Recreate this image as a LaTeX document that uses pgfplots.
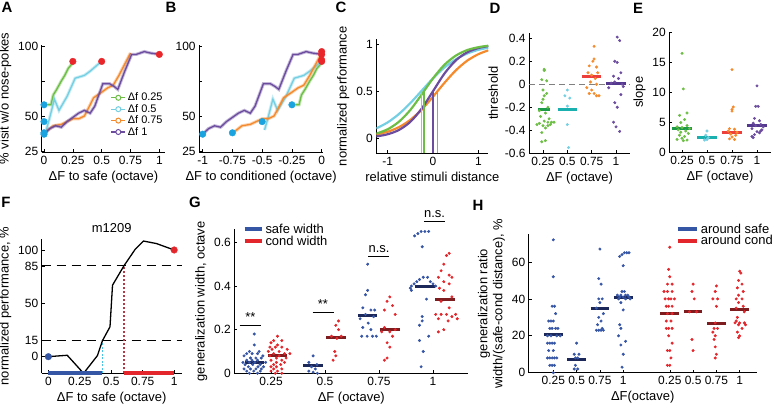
\documentclass[border=0pt]{standalone}
\usepackage{pgfplots}
\usepackage{pgfplotstable}
\pgfplotsset{compat=1.18}
\usepackage{fontspec}
\setmainfont{Liberation Sans}
\setsansfont{Liberation Sans}

\definecolor{cG}{HTML}{6DBE45}
\definecolor{cC}{HTML}{74CFE2}
\definecolor{cO}{HTML}{F58A2C}
\definecolor{cP}{HTML}{6B4C9E}
\definecolor{dotB}{HTML}{1BA3E0}
\definecolor{dotR}{HTML}{E9262A}
\definecolor{mG}{HTML}{1C9A4A}
\definecolor{mC}{HTML}{1AB0B0}
\definecolor{mO}{HTML}{EE3F3A}
\definecolor{mP}{HTML}{54378F}
\definecolor{gB}{HTML}{3555A5}
\definecolor{gR}{HTML}{E3262B}
\definecolor{mB}{HTML}{1C2859}
\definecolor{mR}{HTML}{7E1D1F}
\definecolor{fC}{HTML}{45C3E8}
\definecolor{fR}{HTML}{B03A48}

\pgfplotsset{
  common/.style={
    scale only axis, axis lines*=left,
    every tick label/.append style={font=\fontsize{12}{14}\selectfont},
    every axis label/.append style={font=\fontsize{13}{15}\selectfont},
    /pgf/number format/assume math mode=true,
    tick style={black, line width=0.6pt}, major tick length=3bp,
    axis line style={black, line width=0.8pt},
  },
  dot/.style={only marks, mark=*, mark size=1.3bp, forget plot},
  med/.style={line width=3bp, forget plot},
  bigdot/.style={only marks, mark=*, mark size=3.3bp, forget plot},
  band/.style={line width=3.2pt, opacity=0.4, forget plot},
  core/.style={line width=1.3pt},
}

\pgfplotstableread{
x y
0.03 58
0.06 58
0.08 65
0.11 69
0.15 75
0.18 79
0.21 84
0.25 88
}\dAg
\pgfplotstableread{
x y
0.02 40
0.05 49
0.09 62
0.13 54
0.20 64
0.27 77
0.35 79
0.40 82
0.47 87
0.50 89
}\dAc
\pgfplotstableread{
x y
0.02 39
0.08 43
0.15 44
0.20 46
0.25 48
0.30 48
0.35 50
0.40 58
0.43 63
0.50 67
0.55 70
0.60 72
0.65 79
0.70 87
0.75 95
}\dAo
\pgfplotstableread{
x y
0.00 37
0.05 41
0.10 43
0.15 42
0.20 46
0.25 49
0.30 52
0.35 54
0.40 52
0.44 57
0.51 73
0.57 73
0.61 71
0.64 69
0.70 82
0.76 94
0.80 94
0.87 96
0.92 95
1.00 94
}\dAp

\begin{document}
\begin{tikzpicture}
\useasboundingbox (0,0) rectangle (775bp,410bp);

% ---------- A ----------
\begin{axis}[common, at={(41.7bp,257.6bp)}, anchor=south west, width=123.4bp, height=107.8bp,
  xmin=-0.02, xmax=1.05, ymin=24, ymax=101,
  xtick={0,0.25,0.5,0.75,1}, xticklabels={0,0.25,0.5,0.75,1},
  ytick={25,50,75,100}, yticklabels={25,50,,100},
  xlabel={ΔF to safe (octave)}, ylabel={\% visit w/o nose-pokes},
  legend style={at={(0.55,0.58)}, anchor=north west, draw=none, fill=none,
    font=\fontsize{11}{13}\selectfont, row sep=-2bp, inner sep=1bp},
  legend cell align=left,
  legend image code/.code={\draw[#1,line width=1.1pt] (0bp,0bp) -- (14bp,0bp);
     \draw[#1,line width=1pt,fill=white] (7bp,0bp) circle (2.5bp);}]
\addplot[band, cG] table[x=x,y=y] {\dAg};
\addplot[core, cG] table[x=x,y=y] {\dAg}; \addlegendentry{Δf 0.25}
\addplot[band, cC] table[x=x,y=y] {\dAc};
\addplot[core, cC] table[x=x,y=y] {\dAc}; \addlegendentry{Δf 0.5}
\addplot[band, cO] table[x=x,y=y] {\dAo};
\addplot[core, cO] table[x=x,y=y] {\dAo}; \addlegendentry{Δf 0.75}
\addplot[band, cP] table[x=x,y=y] {\dAp};
\addplot[core, cP] table[x=x,y=y] {\dAp}; \addlegendentry{Δf 1}
\addplot[bigdot, dotB] coordinates {(0,58) (0,46) (0,38) (0,37)};
\addplot[bigdot, dotR] coordinates {(0.25,89) (0.5,89) (1,94)};
\end{axis}

% ---------- B ----------
\begin{axis}[common, at={(199.1bp,257.6bp)}, anchor=south west, width=124.1bp, height=107.8bp,
  xmin=-1.03, xmax=0.013, ymin=24, ymax=101,
  xtick={-1,-0.75,-0.5,-0.25,0}, xticklabels={-1,-0.75,-0.5,-0.25,0},
  ytick={25,50,75,100}, yticklabels={25,50,,100},
  xlabel={ΔF to conditioned (octave)}]
\addplot[band, cG] table[x expr=\thisrow{x}-0.25,y=y] {\dAg};
\addplot[core, cG] table[x expr=\thisrow{x}-0.25,y=y] {\dAg};
\addplot[band, cC] table[x expr=\thisrow{x}-0.5,y=y] {\dAc};
\addplot[core, cC] table[x expr=\thisrow{x}-0.5,y=y] {\dAc};
\addplot[band, cO] table[x expr=\thisrow{x}-0.75,y=y] {\dAo};
\addplot[core, cO] table[x expr=\thisrow{x}-0.75,y=y] {\dAo};
\addplot[band, cP] table[x expr=\thisrow{x}-1,y=y] {\dAp};
\addplot[core, cP] table[x expr=\thisrow{x}-1,y=y] {\dAp};
\addplot[bigdot, dotB] coordinates {(-0.25,58) (-0.5,46) (-0.75,38) (-1,37)};
\addplot[bigdot, dotR] coordinates {(0,89) (0,90) (0,94) (0,96)};
\end{axis}

% ---------- C ----------
\begin{axis}[common, at={(376.4bp,256.6bp)}, anchor=south west, width=111.9bp, height=114.1bp,
  xmin=-1.25, xmax=1.22, ymin=-0.16, ymax=1.05,
  xtick={-1,0,1}, ytick={0,0.5,1}, yticklabels={0,0.5,1},
  xlabel={relative stimuli distance}, ylabel={normalized performance}]
\addplot[cC, line width=2.2pt, smooth] coordinates {(-1.25,0.106) (-1,0.169) (-0.75,0.259) (-0.5,0.374) (-0.25,0.505) (0,0.636) (0.25,0.750) (0.5,0.837) (0.75,0.898) (1,0.938) (1.22,0.960)};
\addplot[cO, line width=2.2pt, smooth] coordinates {(-1.25,0.040) (-1,0.070) (-0.75,0.119) (-0.5,0.196) (-0.25,0.305) (0,0.442) (0.25,0.587) (0.5,0.719) (0.75,0.822) (1,0.892) (1.22,0.933)};
\addplot[cP, line width=2.2pt, smooth] coordinates {(-1.25,0.020) (-1,0.043) (-0.75,0.089) (-0.5,0.175) (-0.25,0.315) (0,0.5) (0.25,0.685) (0.5,0.825) (0.75,0.911) (1,0.957) (1.22,0.978)};
\addplot[cG, line width=2.2pt, smooth] coordinates {(-1.25,0.050) (-1,0.096) (-0.75,0.177) (-0.5,0.301) (-0.25,0.465) (0,0.636) (0.25,0.779) (0.5,0.876) (0.75,0.935) (1,0.966) (1.22,0.982)};
\addplot[cC, line width=1.4pt] coordinates {(-0.26,-0.16) (-0.26,0.49)};
\addplot[cG, line width=1.4pt] coordinates {(-0.2,-0.16) (-0.2,0.49)};
\addplot[cP, line width=1.4pt] coordinates {(0,-0.16) (0,0.5)};
\addplot[cO, line width=1.4pt] coordinates {(0.1,-0.16) (0.1,0.5)};
\end{axis}

% ---------- D ----------
\begin{axis}[common, at={(529bp,256.7bp)}, anchor=south west, width=101bp, height=120bp,
  xmin=0.425, xmax=4.575, ymin=-0.6, ymax=0.443,
  xtick={1,2,3,4}, xticklabels={0.25,0.5,0.75,1},
  ytick={-0.6,-0.4,-0.2,0,0.2,0.4}, yticklabels={-0.6,-0.4,-0.2,0,0.2,0.4},
  xlabel={ΔF (octave)}, ylabel={threshold}]
\addplot[gray, line width=1.2pt, dash pattern=on 6bp off 4bp, forget plot] coordinates {(0.425,0) (4.575,0)};
\addplot[dot, cG] coordinates {(1.05,0.13) (1.05,0.12) (0.95,0.04) (1.15,0.03) (1.0,-0.05) (1.15,-0.08) (1.05,-0.1) (1.0,-0.13) (0.95,-0.16) (1.2,-0.2) (0.85,-0.23) (1.1,-0.25) (0.9,-0.28) (1.25,-0.3) (1.05,-0.32) (1.35,-0.33) (1.2,-0.33) (1.45,-0.33) (0.85,-0.34) (0.75,-0.35) (1.0,-0.36) (1.1,-0.38) (0.95,-0.42) (1.1,-0.49) (0.95,-0.5) (1.2,-0.36) (1.3,-0.35)};
\addplot[dot, cC] coordinates {(2.0,-0.05) (1.9,-0.1) (2.1,-0.12) (2.0,-0.19) (2.0,-0.35) (2.05,-0.55)};
\addplot[dot, cO] coordinates {(3.1,0.33) (3.1,0.22) (3.05,0.2) (2.9,0.16) (3.2,0.15) (2.85,0.1) (3.25,0.1) (3.0,0.08) (3.15,0.05) (2.95,0.02) (3.2,0.0) (2.8,-0.03) (3.0,-0.05) (3.1,-0.08) (2.9,-0.08) (3.2,-0.1) (3.3,-0.1)};
\addplot[dot, cP] coordinates {(4.05,0.41) (4.15,0.38) (3.95,0.2) (4.05,0.19) (4.2,0.1) (3.9,0.07) (4.1,0.05) (3.8,0.01) (3.95,0.02) (4.25,0.0) (3.7,-0.03) (4.3,-0.02) (4.2,-0.09) (3.95,-0.16) (4.05,-0.2) (3.9,-0.33) (4.0,-0.37) (4.15,-0.41)};
\addplot[med, mG] coordinates {(0.8,-0.22) (1.3,-0.22)};
\addplot[med, mC] coordinates {(1.6,-0.22) (2.4,-0.22)};
\addplot[med, mO] coordinates {(2.6,0.07) (3.4,0.07)};
\addplot[med, mP] coordinates {(3.6,0.01) (4.4,0.01)};
\end{axis}

% ---------- E ----------
\begin{axis}[common, at={(669.3bp,257.3bp)}, anchor=south west, width=101.4bp, height=121bp,
  xmin=0.49, xmax=4.55, ymin=0, ymax=20.1,
  xtick={1,2,3,4}, xticklabels={0.25,0.5,0.75,1},
  ytick={0,5,10,15,20},
  xlabel={ΔF (octave)}, ylabel={slope}]
\addplot[dot, cG] coordinates {(1.0,16.5) (1.05,10.6) (1.2,6.6) (0.9,6.2) (1.1,5.5) (0.95,5.0) (1.2,4.5) (0.8,4.3) (1.0,4.2) (1.3,4.0) (0.85,3.8) (1.15,3.6) (0.95,3.4) (1.25,3.2) (0.9,2.9) (1.1,2.7) (1.0,2.4) (0.8,2.2) (1.2,2.1) (1.05,2.0)};
\addplot[dot, cC] coordinates {(2.0,3.6) (1.95,2.9) (2.05,2.5) (2.0,2.2) (1.9,2.1)};
\addplot[dot, cO] coordinates {(3.0,13.8) (3.05,7.6) (3.0,7.2) (3.0,6.9) (2.9,4.0) (3.1,3.9) (2.85,3.6) (3.2,3.4) (2.95,3.1) (3.15,2.9) (3.0,2.6) (2.9,2.3) (3.1,2.2)};
\addplot[dot, cP] coordinates {(4.0,11.1) (3.95,7.7) (4.05,7.7) (3.9,5.7) (4.1,5.3) (3.85,4.9) (4.15,4.7) (3.95,4.5) (4.25,4.3) (3.8,4.0) (4.2,3.8) (4.0,3.5) (4.1,3.3) (3.9,3.0) (3.8,2.7) (3.85,2.5) (4.15,3.6)};
\addplot[med, mG] coordinates {(0.6,4.0) (1.4,4.0)};
\addplot[med, mC] coordinates {(1.6,2.5) (2.4,2.5)};
\addplot[med, mO] coordinates {(2.6,3.3) (3.4,3.3)};
\addplot[med, mP] coordinates {(3.6,4.6) (4.4,4.6)};
\end{axis}

% ---------- F ----------
\begin{axis}[common, at={(41.7bp,36.7bp)}, anchor=south west, width=140bp, height=134.3bp,
  xmin=-0.053, xmax=1.06, ymin=-15.6, ymax=110.3, clip=false,
  xtick={0,0.25,0.5,0.75,1}, xticklabels={0,0.25,0.5,0.75,1},
  ytick={0,15,50,85,100},
  title={m1209}, title style={font=\fontsize{13}{15}\selectfont, yshift=-3bp},
  xlabel={ΔF to safe (octave)}, ylabel={normalized performance, \%}]
\addplot[black, line width=1pt, dash pattern=on 9bp off 6bp] coordinates {(-0.053,85) (1.06,85)};
\addplot[black, line width=1pt, dash pattern=on 9bp off 6bp] coordinates {(-0.053,15) (1.06,15)};
\addplot[fC, line width=1.2pt, dash pattern=on 2bp off 1.5bp] coordinates {(0.43,-15.6) (0.43,15)};
\addplot[fR, line width=1.5pt, dash pattern=on 2.5bp off 1.5bp] coordinates {(0.6,-15.6) (0.6,85)};
\addplot[black, line width=1.3pt] coordinates {(0,0) (0.15,1.3) (0.28,-15.6) (0.39,1) (0.43,15) (0.49,28) (0.51,67) (0.6,85) (0.69,100.6) (0.756,108.4) (0.86,106) (1,100)};
\addplot[gB, line width=4bp] coordinates {(0,-15.6) (0.43,-15.6)};
\addplot[gR, line width=4bp] coordinates {(0.6,-15.6) (1,-15.6)};
\addplot[bigdot, gB] coordinates {(0,0)};
\addplot[bigdot, gR] coordinates {(1,100)};
\end{axis}

% ---------- G ----------
\begin{axis}[common, at={(234.3bp,36.7bp)}, anchor=south west, width=234bp, height=144bp,
  xmin=0.32, xmax=4.654, ymin=0, ymax=0.66, clip=false,
  xtick={1,2,3,4}, xticklabels={0.25,0.5,0.75,1},
  ytick={0,0.2,0.4,0.6}, yticklabels={0,0.2,0.4,0.6},
  xlabel={ΔF (octave)}, ylabel={generalization width, octave},
  legend style={at={(0.03,1.06)}, anchor=north west, draw=none, fill=none,
    font=\fontsize{13}{15}\selectfont, row sep=-3bp, inner sep=1bp},
  legend cell align=left,
  legend image code/.code={\draw[#1,line width=4bp] (0bp,0bp) -- (17bp,0bp);}]
\addlegendimage{gB}\addlegendentry{safe width}
\addlegendimage{gR}\addlegendentry{cond width}
\addplot[dot, gB] coordinates {(0.69,0.18) (0.69,0.13) (0.6,0.10) (0.78,0.10) (0.55,0.09) (0.65,0.09) (0.75,0.09) (0.85,0.08) (0.5,0.08) (0.62,0.07) (0.72,0.07) (0.82,0.07) (0.55,0.06) (0.65,0.06) (0.75,0.06) (0.9,0.05) (0.48,0.05) (0.6,0.05) (0.7,0.05) (0.8,0.04) (0.52,0.04) (0.66,0.04) (0.76,0.03) (0.86,0.03) (0.58,0.03) (0.5,0.02) (0.62,0.02) (0.72,0.02) (0.82,0.02) (0.55,0.01) (0.68,0.01) (0.8,0.01) (0.6,0.0) (0.75,0.0)};
\addplot[dot, gR] coordinates {(1.12,0.17) (1.05,0.15) (1.2,0.15) (1.0,0.14) (1.12,0.13) (0.98,0.12) (1.08,0.12) (1.2,0.12) (1.3,0.11) (1.02,0.11) (1.15,0.1) (0.95,0.10) (1.25,0.09) (1.35,0.09) (1.05,0.09) (1.15,0.08) (0.98,0.08) (1.28,0.07) (1.1,0.07) (1.2,0.06) (1.0,0.06) (1.1,0.05) (1.25,0.05) (1.05,0.04) (1.18,0.04) (1.1,0.03) (1.0,0.03) (1.2,0.02) (1.05,0.02) (1.12,0.01) (1.0,0.01) (1.2,0.0) (1.08,0.0)};
\addplot[dot, gB] coordinates {(1.78,0.08) (1.7,0.05) (1.85,0.04) (1.75,0.03) (1.82,0.02) (1.7,0.01) (1.78,0.005) (1.86,0.0)};
\addplot[dot, gR] coordinates {(2.25,0.24) (2.2,0.22) (2.25,0.2) (2.12,0.17) (2.3,0.17) (2.22,0.16) (2.18,0.1) (2.2,0.08) (2.15,0.06)};
\addplot[dot, gB] coordinates {(2.79,0.5) (2.79,0.38) (2.75,0.36) (2.7,0.3) (2.85,0.29) (2.92,0.29) (2.75,0.27) (2.9,0.26) (2.65,0.25) (2.8,0.23) (2.7,0.21) (2.85,0.2) (2.68,0.17) (2.78,0.17) (2.88,0.17) (2.95,0.17)};
\addplot[dot, gR] coordinates {(3.2,0.35) (3.15,0.33) (3.25,0.31) (3.1,0.29) (3.3,0.27) (3.1,0.21) (3.3,0.2) (3.2,0.19) (3.05,0.19) (3.25,0.17) (3.15,0.14) (3.2,0.12) (3.15,0.07) (3.1,0.06)};
\addplot[dot, gB] coordinates {(3.78,0.65) (3.85,0.65) (3.92,0.65) (3.72,0.64) (3.66,0.63) (3.8,0.58) (3.82,0.44) (3.9,0.44) (3.75,0.43) (3.95,0.42) (3.7,0.42) (3.65,0.41) (4.0,0.41) (3.6,0.40) (4.05,0.40) (3.58,0.39) (3.6,0.38) (3.88,0.34) (3.8,0.26) (3.8,0.24) (3.75,0.22) (3.92,0.17) (3.75,0.15) (3.82,0.10) (3.78,0.03)};
\addplot[dot, gR] coordinates {(4.3,0.55) (4.25,0.54) (4.2,0.5) (4.15,0.47) (4.3,0.45) (4.1,0.44) (4.35,0.44) (4.2,0.42) (4.3,0.41) (4.12,0.39) (4.2,0.38) (4.35,0.35) (4.15,0.33) (4.3,0.3) (4.05,0.27) (4.15,0.27) (4.25,0.27) (4.35,0.26) (4.42,0.27) (4.1,0.25) (4.45,0.25) (4.28,0.24) (4.2,0.2) (4.1,0.19)};
\addplot[med, mB] coordinates {(0.51,0.05) (0.87,0.05)};
\addplot[med, mR] coordinates {(0.94,0.08) (1.3,0.08)};
\addplot[med, mB] coordinates {(1.6,0.035) (1.96,0.035)};
\addplot[med, mR] coordinates {(2.02,0.165) (2.38,0.165)};
\addplot[med, mB] coordinates {(2.61,0.265) (2.97,0.265)};
\addplot[med, mR] coordinates {(3.02,0.2) (3.38,0.2)};
\addplot[med, mB] coordinates {(3.67,0.4) (4.03,0.4)};
\addplot[med, mR] coordinates {(4.04,0.34) (4.4,0.34)};
\addplot[black, line width=1pt, forget plot] coordinates {(0.42,0.221) (0.82,0.221)};
\addplot[black, line width=1pt, forget plot] coordinates {(1.77,0.28) (2.16,0.28)};
\addplot[black, line width=1pt, forget plot] coordinates {(2.8,0.534) (3.19,0.534)};
\addplot[black, line width=1pt, forget plot] coordinates {(3.83,0.695) (4.23,0.695)};
\node[font=\fontsize{13}{15}\selectfont, anchor=south] at (axis cs:0.62,0.222) {**};
\node[font=\fontsize{13}{15}\selectfont, anchor=south] at (axis cs:1.96,0.281) {**};
\node[font=\fontsize{13}{15}\selectfont, anchor=south] at (axis cs:3.0,0.536) {n.s.};
\node[font=\fontsize{13}{15}\selectfont, anchor=south] at (axis cs:4.03,0.697) {n.s.};
\end{axis}

% ---------- H ----------
\begin{axis}[common, at={(528.7bp,37.3bp)}, anchor=south west, width=228bp, height=138.4bp,
  xmin=-0.056, xmax=9.73, ymin=0, ymax=75,
  xtick={1,2,3,4,6,7,8,9}, xticklabels={0.25,0.5,0.75,1,0.25,0.5,0.75,1},
  ytick={0,20,40,60},
  xlabel={ΔF(octave)},
  ylabel={generalization ratio\\width/(safe-cond distance), \%}, ylabel style={align=center},
  legend style={at={(0.64,1.10)}, anchor=north west, draw=none, fill=none,
    font=\fontsize{13}{15}\selectfont, row sep=-3bp, inner sep=1bp},
  legend cell align=left,
  legend image code/.code={\draw[#1,line width=4bp] (0bp,0bp) -- (19bp,0bp);}]
\addlegendimage{gB}\addlegendentry{around safe}
\addlegendimage{gR}\addlegendentry{around cond}
\addplot[dot, gB] coordinates {(1.0,72) (1.0,52) (0.95,36) (1.05,36) (1.1,32) (0.8,28) (0.9,28) (1.0,28) (0.85,24) (0.95,24) (1.1,24) (1.2,24) (0.75,20) (0.9,20) (1.15,20) (1.3,20) (0.75,16) (0.85,16) (0.95,16) (1.05,16) (0.8,12) (1.0,12) (0.75,8) (0.85,8) (0.95,8) (1.05,8) (1.15,8) (0.85,4) (0.95,4) (1.05,4) (1.0,0)};
\addplot[dot, gB] coordinates {(2.0,16) (1.9,10) (2.1,10) (1.95,8) (2.05,8) (1.95,4) (1.9,2) (2.05,2)};
\addplot[dot, gB] coordinates {(3.0,67) (2.95,51) (3.05,48) (2.95,40) (3.1,40) (3.0,38) (2.85,35) (3.15,32) (2.95,30) (3.05,28) (2.9,26) (3.1,24) (2.85,23) (2.95,23) (3.05,23) (3.15,23)};
\addplot[dot, gB] coordinates {(3.85,63) (3.95,64) (4.05,65) (4.15,65) (4.25,65) (4.0,58) (3.95,44) (4.05,44) (3.75,42) (3.9,42) (4.1,42) (4.2,42) (3.85,41) (4.0,41) (4.25,41) (3.8,40) (4.1,40) (4.3,40) (3.9,38) (4.0,34) (3.85,26) (3.9,24) (3.8,20) (4.1,17) (3.9,15) (4.0,10) (3.95,3)};
\addplot[dot, gR] coordinates {(6.0,68) (5.95,56) (6.0,52) (5.9,48) (6.1,48) (5.75,44) (5.9,44) (6.1,44) (5.8,40) (5.95,40) (6.05,40) (6.2,40) (5.85,36) (5.95,36) (6.1,36) (5.9,32) (6.1,32) (5.85,28) (6.05,28) (5.85,24) (5.95,24) (6.1,24) (5.95,20) (6.1,16) (5.9,12) (6.0,12) (6.05,8) (5.9,4) (6.0,4)};
\addplot[dot, gR] coordinates {(7.0,48) (6.95,44) (7.05,40) (6.85,33) (7.15,33) (6.95,18) (7.0,12)};
\addplot[dot, gR] coordinates {(8.0,47) (7.95,44) (7.85,40) (8.05,40) (8.0,36) (7.95,27) (7.9,24) (8.05,24) (7.85,22) (7.95,20) (7.9,18) (7.95,14) (8.0,10) (7.95,8)};
\addplot[dot, gR] coordinates {(9.0,55) (9.05,54) (8.95,50) (9.1,48) (8.9,46) (9.15,44) (8.95,42) (8.85,40) (9.1,40) (8.95,38) (9.15,36) (8.85,35) (9.2,33) (8.9,30) (8.85,28) (8.8,27) (9.0,27) (9.2,27) (8.95,26) (9.25,26) (9.1,24) (8.9,22) (9.0,20) (8.95,19)};
\addplot[med, mB] coordinates {(0.6,20.5) (1.4,20.5)};
\addplot[med, mB] coordinates {(1.6,7) (2.4,7)};
\addplot[med, mB] coordinates {(2.6,35) (3.4,35)};
\addplot[med, mB] coordinates {(3.6,40.5) (4.4,40.5)};
\addplot[med, mR] coordinates {(5.6,32) (6.4,32)};
\addplot[med, mR] coordinates {(6.6,33) (7.4,33)};
\addplot[med, mR] coordinates {(7.6,26.5) (8.4,26.5)};
\addplot[med, mR] coordinates {(8.6,34.5) (9.4,34.5)};
\end{axis}

% panel letters
\foreach \l/\x/\y in {A/7/402.5, B/171/402.5, C/341/402.5, D/495/402, E/638/402, F/6/207.5, G/195/207.5, H/478/205}
  \node[font=\fontsize{15}{17}\selectfont\bfseries] at (\x bp,\y bp) {\l};
\end{tikzpicture}
\end{document}
